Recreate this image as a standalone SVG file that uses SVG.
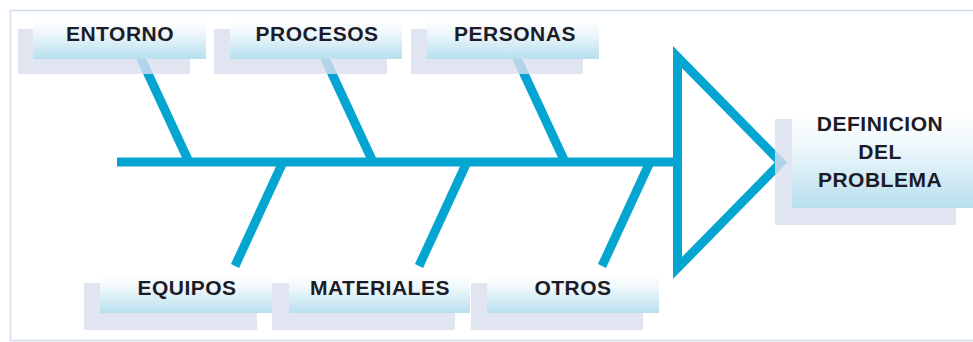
<svg xmlns="http://www.w3.org/2000/svg" width="973" height="342" viewBox="0 0 973 342">
  <defs>
    <linearGradient id="boxGrad" x1="0" y1="0" x2="0" y2="1">
      <stop offset="0" stop-color="#ffffff"/>
      <stop offset="0.35" stop-color="#eef7fb"/>
      <stop offset="1" stop-color="#b7dfee"/>
    </linearGradient>
    <style>
      .bone { stroke: #05a5d1; stroke-width: 9; fill: none; stroke-linecap: butt; }
      .shadow { fill: #d9dfee; opacity: 0.8; }
      .box { fill: url(#boxGrad); }
      .lbl { font-family: "Liberation Sans", Arial, sans-serif; font-weight: bold; font-size: 21px; fill: #1c1c28; text-anchor: middle; letter-spacing: 0.5px; }
    </style>
  </defs>
  <rect x="0" y="0" width="973" height="342" fill="#ffffff"/>
  <rect x="10.5" y="10.5" width="965" height="330" fill="none" stroke="#d3ddec" stroke-width="1.5"/>

  <g id="connectors">
    <line class="bone" x1="117" y1="162" x2="680" y2="162" stroke-linecap="round"/>
    <line class="bone" x1="137" y1="50" x2="189" y2="162"/>
    <line class="bone" x1="321" y1="50" x2="373" y2="162"/>
    <line class="bone" x1="513" y1="50" x2="565" y2="162"/>
    <line class="bone" x1="283" y1="162" x2="235" y2="266"/>
    <line class="bone" x1="467" y1="162" x2="419" y2="266"/>
    <line class="bone" x1="650" y1="162" x2="602" y2="266"/>
    <polygon class="bone" points="677.5,57 677.5,268 781,162.5" stroke-linejoin="miter"/>
  </g>

  <g id="entorno">
    <rect class="shadow" x="18" y="29" width="172" height="45"/>
    <rect class="box" x="33" y="20" width="173" height="39"/>
    <text class="lbl" x="120" y="41">ENTORNO</text>
  </g>
  <g id="procesos">
    <rect class="shadow" x="214" y="29" width="173" height="45"/>
    <rect class="box" x="230" y="20" width="172" height="39"/>
    <text class="lbl" x="317" y="41">PROCESOS</text>
  </g>
  <g id="personas">
    <rect class="shadow" x="411" y="29" width="172" height="45"/>
    <rect class="box" x="427" y="20" width="172" height="39"/>
    <text class="lbl" x="515" y="41">PERSONAS</text>
  </g>

  <g id="equipos">
    <rect class="shadow" x="84" y="283" width="173" height="47"/>
    <rect class="box" x="100" y="275" width="172" height="38"/>
    <text class="lbl" x="187" y="295">EQUIPOS</text>
  </g>
  <g id="materiales">
    <rect class="shadow" x="272" y="283" width="183" height="47"/>
    <rect class="box" x="289" y="275" width="181" height="38"/>
    <text class="lbl" x="380" y="295">MATERIALES</text>
  </g>
  <g id="otros">
    <rect class="shadow" x="471" y="283" width="172" height="47"/>
    <rect class="box" x="487" y="275" width="172" height="38"/>
    <text class="lbl" x="573" y="295">OTROS</text>
  </g>

  <g id="definicion">
    <rect class="shadow" x="775" y="119" width="181" height="106" opacity="0.7"/>
    <rect class="box" x="792" y="115" width="181" height="93"/>
    <text class="lbl" x="880" y="131">DEFINICION</text>
    <text class="lbl" x="880" y="159">DEL</text>
    <text class="lbl" x="880" y="187">PROBLEMA</text>
  </g>
</svg>
